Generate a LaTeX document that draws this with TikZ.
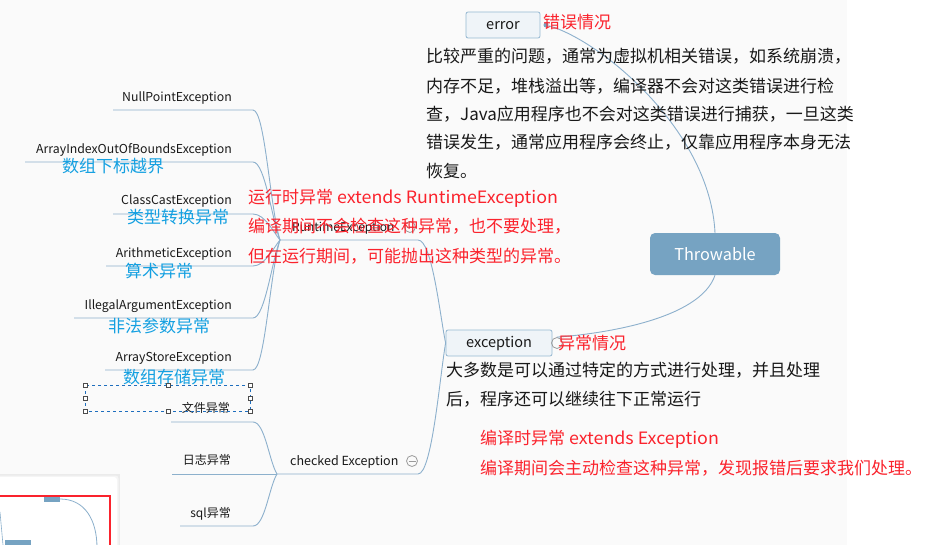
\documentclass[tikz,border=0pt]{standalone}
\usepackage{fontspec}
\setmainfont{Noto Sans CJK SC}
\newfontfamily\latw[FakeStretch=1.05]{Noto Sans CJK SC}
\definecolor{linec}{RGB}{140,176,204}
\definecolor{topicfill}{RGB}{239,244,248}
\definecolor{topicdraw}{RGB}{150,185,210}
\definecolor{rootfill}{RGB}{118,163,194}
\definecolor{redc}{RGB}{250,35,45}
\definecolor{bluec}{RGB}{20,160,225}
\definecolor{grayc}{RGB}{155,155,155}
\definecolor{selc}{RGB}{30,110,190}
\definecolor{bgc}{RGB}{250,250,250}
\definecolor{textc}{RGB}{25,25,25}
\tikzset{
  conn/.style={draw=linec, line width=0.9pt},
  fs/.style={font=\fontsize{#1}{#1}\selectfont},
  lbl/.style={inner sep=0pt, text=textc},
  leftlbl/.style={lbl, anchor=base east, fs=12.3},
  rednote/.style={inner sep=0pt, text=redc, anchor=base west, fs=17},
  bluenote/.style={inner sep=0pt, text=bluec, anchor=base west, fs=17},
  desc/.style={lbl, anchor=base west, fs=17},
  topicbox/.style={draw=topicdraw, fill=topicfill, rounded corners=2pt, line width=0.8pt, text=textc, fs=14.5, inner sep=0pt},
  rootbox/.style={fill=rootfill, rounded corners=5pt, text=white, fs=16.3, inner sep=0pt},
  collapse/.style={circle, draw=grayc, line width=0.8pt, minimum size=11pt, inner sep=0pt},
  handle/.style={draw=black!70, fill=white, line width=0.6pt, minimum size=4pt, inner sep=0pt},
}
\begin{document}
\begin{tikzpicture}[x=1pt,y=-1pt]
\useasboundingbox (0,0) rectangle (933,545);
% background
\fill[bgc] (0,0) rectangle (847,545);
\fill[white] (847,0) rectangle (933,545);

% thumbnail panel
\fill[black!8] (-5,474) rectangle (120,550);
\fill[black!4,rounded corners=3pt] (-5,475.5) rectangle (118.5,550);
\fill[white,rounded corners=3pt] (-5,477) rectangle (117,550);
\draw[redc, line width=1.5pt] (-2,496) -- (110,496) -- (110,548);
\fill[rootfill] (44,497) rectangle (60,502);
\fill[rootfill] (5,540) rectangle (31,548);
\draw[linec, line width=0.8pt] (60,499) .. controls (85,499) and (97,520) .. (97,548);
\draw[linec, line width=0.6pt] (0,512) -- (3,545);

% ---------- nodes ----------
\node[rootbox, minimum width=130pt, minimum height=42pt] (thr) at (715,254) {Throwable};
\node[topicbox, minimum width=74pt, minimum height=26pt, text height=10pt, text depth=1pt] (err) at (503,25) {error};
\node[topicbox, minimum width=106pt, minimum height=26pt, text height=10pt, text depth=1pt] (exc) at (499,343) {exception};
\node[circle, fill=rootfill, minimum size=5pt, inner sep=0pt] (errdot) at (546,25) {};
\node[collapse] (exccirc) at (557,343) {};

% runtime / checked
\node[lbl, anchor=base west, fs=12] (rt) at (292,231.5) {RuntimeException};
\node[collapse] (rtcirc) at (410,227) {};
\draw[grayc, line width=0.8pt] (406.5,227) -- (413.5,227);
\node[lbl, anchor=base west, fs=12.5] (ck) at (290,465.5) {checked Exception};
\node[collapse] (ckcirc) at (412,461) {};
\draw[grayc, line width=0.8pt] (408.5,461) -- (415.5,461);

\coordinate (rh) at (280,240);
\coordinate (rE) at (418,240);
\coordinate (chb) at (277,474);
\coordinate (cE) at (418,474);

% runtime children
\node[leftlbl] (np) at (232,101.5) {NullPointException};
\node[leftlbl] (ai) at (232,153.5) {ArrayIndexOutOfBoundsException};
\node[leftlbl] (cc) at (232,205) {ClassCastException};
\node[leftlbl] (ar) at (232,257.5) {ArithmeticException};
\node[leftlbl] (ia) at (232,309.5) {IllegalArgumentException};
\node[leftlbl] (as) at (232,361.5) {ArrayStoreException};
\coordinate (npL) at (113,110); \coordinate (npR) at (253,110);
\coordinate (aiL) at (25,162);  \coordinate (aiR) at (253,162);
\coordinate (ccL) at (113,214); \coordinate (ccR) at (253,214);
\coordinate (arL) at (106,266); \coordinate (arR) at (253,266);
\coordinate (iaL) at (74,318);  \coordinate (iaR) at (253,318);
\coordinate (asL) at (105,370); \coordinate (asR) at (253,370);

% checked children
\node[leftlbl, fs=12] (fe) at (230,412.5) {文件异常};
\node[leftlbl, fs=12] (rz) at (231,464.5) {日志异常};
\node[leftlbl, fs=12] (sq) at (231,517.5) {sql异常};
\coordinate (feL) at (171,422); \coordinate (feR) at (253,422);
\coordinate (rzL) at (172,474);
\coordinate (sqL) at (180,526); \coordinate (sqR) at (253,526);

% ---------- connectors ----------
\draw[conn] (thr.north) .. controls (710,130) and (600,40) .. (errdot);
\draw[conn] (thr.south) .. controls (700,320) and (600,334) .. (exccirc.north);
\draw[conn] (rh) -- (rE) .. controls +(14,0) and +(-6,-30) .. (exc.west);
\draw[conn] (chb) -- (cE) .. controls +(14,0) and +(-6,35) .. (exc.west);

\draw[conn] (npL) -- (npR) .. controls +(12,0) and +(-10,-32) .. (rh);
\draw[conn] (aiL) -- (aiR) .. controls +(12,0) and +(-8,-20) .. (rh);
\draw[conn] (ccL) -- (ccR) .. controls +(12,0) and +(-6,-7) .. (rh);
\draw[conn] (arL) -- (arR) .. controls +(12,0) and +(-6,7) .. (rh);
\draw[conn] (iaL) -- (iaR) .. controls +(12,0) and +(-8,20) .. (rh);
\draw[conn] (asL) -- (asR) .. controls +(12,0) and +(-10,32) .. (rh);

\draw[conn] (feL) -- (feR) .. controls +(12,0) and +(-8,-13) .. (chb);
\draw[conn] (rzL) -- (chb);
\draw[conn] (sqL) -- (sqR) .. controls +(12,0) and +(-8,13) .. (chb);

% ---------- blue notes ----------
\node[bluenote] (b1) at (62,173) {数组下标越界};
\node[bluenote] (b2) at (127,223) {类型转换异常};
\node[bluenote] (b3) at (125,277) {算术异常};
\node[bluenote] (b4) at (108,332) {非法参数异常};
\node[bluenote] (b5) at (123,383) {数组存储异常};

% selection box
\draw[selc, dashed, line width=0.7pt] (85,385) rectangle (250,411);
\foreach \hx/\hy [count=\i] in {85/385,168/385,250/385,85/398,250/398,85/411,168/411,250/411}
  \node[handle] (h\i) at (\hx,\hy) {};

% ---------- red notes ----------
\node[rednote] (e1) at (543,29) {错误情况};
\node[rednote] (x1) at (558,349) {异常情况};
\node[rednote] (r1) at (248,204) {运行时异常 {\latw extends RuntimeException}};
\node[rednote] (r2) at (248,233) {编译期间不会检查这种异常，也不要处理，};
\node[rednote] (r3) at (248,262) {但在运行期间，可能抛出这种类型的异常。};
\node[rednote] (c1) at (480,444) {编译时异常 {\latw extends Exception}};
\node[rednote] (c2) at (480,474) {编译期间会主动检查这种异常，发现报错后要求我们处理。};

% ---------- descriptions ----------
\node[desc] (d1) at (426,62.5) {比较严重的问题，通常为虚拟机相关错误，如系统崩溃，};
\node[desc] (d2) at (426,92.5) {内存不足，堆栈溢出等，编译器不会对这类错误进行检};
\node[desc] (d3) at (426,120.5) {查，Java应用程序也不会对这类错误进行捕获，一旦这类};
\node[desc] (d4) at (426,149) {错误发生，通常应用程序会终止，仅靠应用程序本身无法};
\node[desc] (d5) at (426,177.5) {恢复。};
\node[desc] (x2) at (446,376.5) {大多数是可以通过特定的方式进行处理，并且处理};
\node[desc] (x3) at (446,405.5) {后，程序还可以继续往下正常运行};
\end{tikzpicture}
\end{document}
